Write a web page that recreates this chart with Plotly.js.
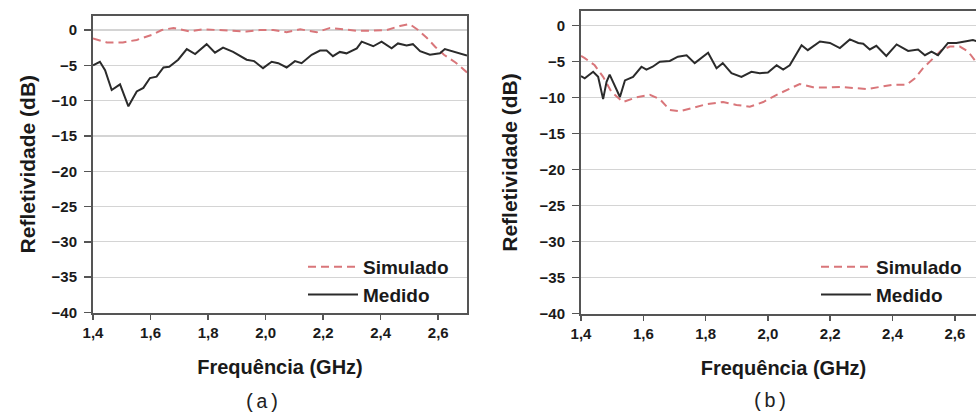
<!DOCTYPE html>
<html>
<head>
<meta charset="utf-8">
<script src="https://cdn.plot.ly/plotly-3.0.1.min.js"></script>
<style>
  html, body { margin: 0; padding: 0; overflow: hidden; background: #fff; }
  #wrap { width: 976px; height: 414px; overflow: hidden; }
  #chart { width: 1010px; height: 414px; }
  .xtick text, .ytick text, .x2tick text, .y2tick text { font-weight: 700 !important; }
</style>
</head>
<body>
<div id="wrap"><div id="chart"></div></div>
<script>
// ---------- Data ----------
// Panel (a)
const freqSimA = [1.400,1.448,1.504,1.552,1.604,1.639,1.680,1.737,1.783,1.830,1.887,1.934,1.980,2.027,2.073,2.120,2.178,2.224,2.270,2.317,2.363,2.421,2.467,2.500,2.530,2.560,2.590,2.620,2.660,2.700];
const simA     = [-1.2,-1.75,-1.75,-1.4,-0.7,0.0,0.3,-0.2,0.1,0.0,-0.2,-0.2,0.0,0.0,-0.3,0.1,-0.3,0.3,0.1,-0.1,-0.1,0.0,0.57,0.85,0.0,-1.1,-2.4,-3.5,-4.6,-6.0];
const freqMedA = [1.400,1.424,1.442,1.465,1.494,1.523,1.552,1.575,1.598,1.621,1.645,1.665,1.696,1.726,1.755,1.795,1.824,1.852,1.887,1.934,1.960,1.991,2.021,2.044,2.073,2.102,2.125,2.160,2.189,2.212,2.234,2.258,2.281,2.317,2.334,2.374,2.403,2.438,2.460,2.490,2.512,2.537,2.571,2.606,2.623,2.660,2.700];
const medA     = [-5.0,-4.5,-5.7,-8.5,-7.7,-10.8,-8.7,-8.2,-6.8,-6.6,-5.3,-5.2,-4.2,-2.7,-3.4,-2.0,-3.2,-2.5,-3.1,-4.2,-4.4,-5.4,-4.5,-4.7,-5.3,-4.4,-4.7,-3.5,-2.9,-2.9,-3.7,-3.1,-3.3,-2.6,-1.65,-2.3,-1.65,-2.6,-1.9,-2.2,-2.0,-3.0,-3.5,-3.3,-2.7,-3.1,-3.6];

// Panel (b)
const freqSimB = [1.400,1.412,1.444,1.471,1.498,1.535,1.578,1.621,1.653,1.685,1.717,1.760,1.803,1.856,1.899,1.942,1.985,2.028,2.070,2.102,2.145,2.188,2.231,2.274,2.317,2.360,2.402,2.445,2.472,2.498,2.530,2.557,2.584,2.616,2.643,2.664,2.700];
const simB     = [-4.2,-4.5,-5.5,-7.1,-9.2,-10.6,-9.95,-9.6,-10.2,-11.7,-11.9,-11.4,-10.9,-10.6,-11.0,-11.25,-10.6,-9.6,-8.7,-8.1,-8.55,-8.6,-8.5,-8.6,-8.8,-8.5,-8.2,-8.2,-7.3,-5.9,-4.5,-3.4,-2.9,-2.9,-3.6,-4.8,-6.0];
const freqMedB = [1.400,1.412,1.439,1.455,1.471,1.482,1.492,1.508,1.525,1.541,1.567,1.594,1.610,1.630,1.653,1.685,1.711,1.739,1.765,1.808,1.835,1.855,1.883,1.915,1.947,1.974,2.000,2.028,2.049,2.070,2.108,2.128,2.167,2.199,2.231,2.263,2.290,2.306,2.327,2.348,2.380,2.413,2.450,2.482,2.504,2.525,2.546,2.578,2.605,2.632,2.658,2.680,2.700];
const medB     = [-7.0,-7.3,-6.4,-7.1,-10.2,-7.8,-6.8,-8.2,-9.9,-7.6,-7.1,-5.7,-6.1,-5.7,-5.0,-4.9,-4.3,-4.1,-5.2,-3.75,-5.9,-5.2,-6.6,-7.1,-6.4,-6.6,-6.5,-5.5,-6.1,-5.5,-2.7,-3.4,-2.2,-2.4,-3.1,-1.9,-2.4,-2.5,-3.3,-2.8,-4.2,-2.6,-3.5,-3.3,-4.1,-3.6,-4.1,-2.4,-2.4,-2.2,-2.0,-2.3,-2.5];

const seriesNames = ["Simulado", "Medido"];
const xTickVals = [1.4, 1.6, 1.8, 2.0, 2.2, 2.4, 2.6];
const yTickVals = [0, -5, -10, -15, -20, -25, -30, -35, -40];
const xTitle = "Frequência (GHz)";
const yTitle = "Refletividade (dB)";
const panelLabels = ["(a)", "(b)"];

// ---------- Styling ----------
const W = 1010, H = 414;
const bold = {family: "Liberation Sans, Arial, sans-serif", color: "#1a1a1a", weight: "bold"};
const simLine = {color: "#d9767a", width: 2, dash: "8px,5px"};
const medLine = {color: "#2b2b2b", width: 2};

function xAxis(domain, anchor) {
  return {
    domain: domain, anchor: anchor, range: [1.4, 2.7],
    tickvals: xTickVals, tickformat: ".1f",
    ticks: "outside", ticklen: 5, tickwidth: 1.5, tickcolor: "#555",
    showline: true, linecolor: "#555", linewidth: 2, mirror: true,
    showgrid: false, zeroline: false,
    tickfont: Object.assign({size: 15}, bold),
    title: {text: xTitle, font: Object.assign({size: 20}, bold), standoff: 20}
  };
}
function yAxis(domain, anchor, standoff) {
  return {
    domain: domain, anchor: anchor, range: [-40, 2],
    tickvals: yTickVals,
    ticks: "outside", ticklen: 7, tickwidth: 1.5, tickcolor: "#555",
    showline: true, linecolor: "#555", linewidth: 2, mirror: true,
    showgrid: true, gridcolor: "#d4d4d4", gridwidth: 1.2, zeroline: false,
    ticklabelstandoff: 4,
    tickfont: Object.assign({size: 15}, bold),
    title: {text: yTitle, font: Object.assign({size: 21}, bold), standoff: standoff}
  };
}

const traces = [
  {x: freqSimA, y: simA, name: seriesNames[0], mode: "lines", line: simLine, xaxis: "x", yaxis: "y", legend: "legend"},
  {x: freqMedA, y: medA, name: seriesNames[1], mode: "lines", line: medLine, xaxis: "x", yaxis: "y", legend: "legend"},
  {x: freqSimB, y: simB, name: seriesNames[0], mode: "lines", line: simLine, xaxis: "x2", yaxis: "y2", legend: "legend2"},
  {x: freqMedB, y: medB, name: seriesNames[1], mode: "lines", line: medLine, xaxis: "x2", yaxis: "y2", legend: "legend2"}
];

const legendBase = {
  bgcolor: "rgba(0,0,0,0)", borderwidth: 0, traceorder: "normal",
  font: Object.assign({size: 19}, bold), itemwidth: 50, tracegroupgap: 0,
  xanchor: "left", yanchor: "top"
};

const layout = {
  width: W, height: H,
  margin: {l: 0, r: 0, t: 0, b: 0},
  paper_bgcolor: "#fff", plot_bgcolor: "#fff",
  separators: ",.",
  showlegend: true,
  xaxis: xAxis([93 / W, 467 / W], "y"),
  yaxis: yAxis([(H - 312.5) / H, (H - 15.9) / H], "x", 10),
  xaxis2: xAxis([581 / W, 986 / W], "y2"),
  yaxis2: yAxis([(H - 313.7) / H, (H - 11.3) / H], "x2", 16),
  legend: Object.assign({x: 303 / W, y: (H - 248) / H}, legendBase),
  legend2: Object.assign({x: 816 / W, y: (H - 248) / H}, legendBase),
  annotations: [
    {text: panelLabels[0], xref: "paper", yref: "paper", x: 262 / W, y: (H - 402) / H, yanchor: "middle", xanchor: "center", showarrow: false,
     font: {family: "Liberation Mono, Courier New, monospace", size: 20, color: "#222"}},
    {text: panelLabels[1], xref: "paper", yref: "paper", x: 770 / W, y: (H - 401) / H, yanchor: "middle", xanchor: "center", showarrow: false,
     font: {family: "Liberation Mono, Courier New, monospace", size: 20, color: "#222"}}
  ]
};

Plotly.newPlot("chart", traces, layout, {staticPlot: true, displayModeBar: false});
</script>
</body>
</html>
